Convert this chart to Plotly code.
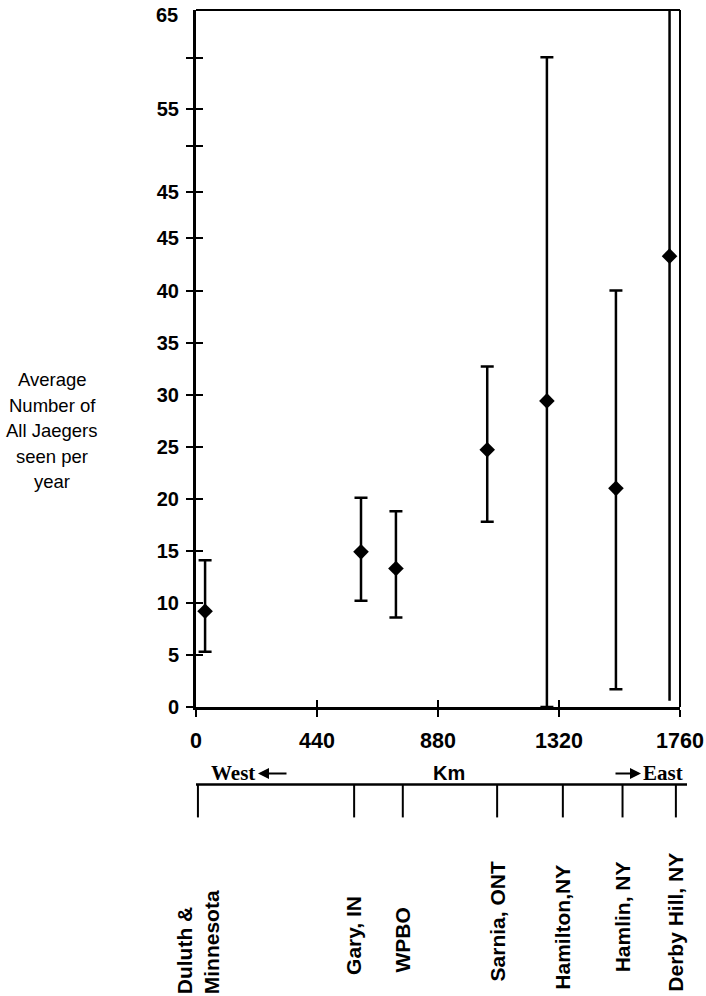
import plotly.graph_objects as go

# ---------------- data (y in units of the drawn linear axis) ----------------
site_labels = ["Duluth &<br>Minnesota", "Gary, IN", "WPBO", "Sarnia, ONT",
               "Hamilton,NY", "Hamlin, NY", "Derby Hill, NY"]
site_scale_km = [7, 575, 752, 1095, 1334, 1551, 1745]      # ticks on lower Km scale
point_km = [33, 600, 727, 1059, 1276, 1527, 1722]           # x of each data point
mean_jaegers = [9.2, 14.9, 13.3, 24.7, 29.4, 21.0, 43.3]
upper_jaegers = [14.1, 20.1, 18.8, 32.7, 62.4, 40.0, 67.0]
lower_jaegers = [5.3, 10.2, 8.6, 17.8, 0.0, 1.7, 0.6]
has_caps = [True, True, True, True, True, True, False]

y_tickvals = [0, 5, 10, 15, 20, 25, 30, 35, 40, 45, 49.5, 53.9, 57.4, 62.3]
y_ticktext = ["0", "5", "10", "15", "20", "25", "30", "35", "40", "45", "45", "", "55", ""]
y_top_label = "65"
x_tickvals = [0, 440, 880, 1320, 1760]
x_ticktext = ["0", "440", "880", "1320", "1760"]
x_cross_ticks = [440, 880, 1320]
y_title_lines = ["Average", "Number of", "All Jaegers", "seen per", "year"]

# ---------------- layout geometry ----------------
W, H = 706, 996
L, R, T, B = 196, 26, 10, 288.5
PW, PH = W - L - R, H - T - B
Y_MAX = 66.94
X_MAX = 1760


def pxp(p):  # pixel x -> paper
    return (p - L) / PW


def pyp(p):  # pixel y -> paper
    return (H - B - p) / PH


label_bottom_px = [997, 978, 975, 984, 992, 975, 994]

SANS = "Liberation Sans, Arial, Helvetica, sans-serif"
SERIF = "Liberation Serif, Times New Roman, serif"

fig = go.Figure()


def add_points(idx, cap_w):
    xs = [point_km[i] for i in idx]
    ys = [mean_jaegers[i] for i in idx]
    up = [upper_jaegers[i] - mean_jaegers[i] for i in idx]
    dn = [mean_jaegers[i] - lower_jaegers[i] for i in idx]
    fig.add_trace(go.Scatter(
        x=xs, y=ys, mode="markers",
        marker=dict(symbol="diamond", size=12, color="black"),
        error_y=dict(type="data", symmetric=False, array=up, arrayminus=dn,
                     color="black", thickness=2.5, width=cap_w),
        showlegend=False, hoverinfo="x+y"))


add_points([i for i, c in enumerate(has_caps) if c], 6.5)
add_points([i for i, c in enumerate(has_caps) if not c], 0)

# dummy trace to activate overlay axes (inside half of crossing ticks)
fig.add_trace(go.Scatter(x=[0], y=[0], xaxis="x2", yaxis="y2", mode="markers",
                         marker=dict(opacity=0), hoverinfo="skip", showlegend=False))

tickfont = dict(family=SANS, size=20, color="black", weight="bold")

fig.update_layout(
    template="none",
    width=W, height=H,
    margin=dict(l=L, r=R, t=T, b=B, autoexpand=False),
    paper_bgcolor="white", plot_bgcolor="white",
    showlegend=False,
    xaxis=dict(range=[0, X_MAX], tickvals=x_tickvals, ticktext=x_ticktext,
               ticks="outside", ticklen=7, tickwidth=2, tickcolor="black",
               showline=True, linewidth=3, linecolor="black",
               showgrid=False, zeroline=False, automargin=False,
               tickfont=dict(family=SANS, size=21.5, color="black", weight="bold"),
               ticklabelstandoff=5),
    yaxis=dict(range=[0, Y_MAX], tickvals=y_tickvals, ticktext=y_ticktext,
               ticks="outside", ticklen=7, tickwidth=2, tickcolor="black",
               showline=True, linewidth=3, linecolor="black",
               showgrid=False, zeroline=False, automargin=False,
               tickfont=tickfont, ticklabelstandoff=3),
    xaxis2=dict(overlaying="x", anchor="y2", range=[0, X_MAX], tickvals=x_cross_ticks,
                ticks="inside", ticklen=7, tickwidth=2, tickcolor="black",
                showticklabels=False, showline=False, showgrid=False, zeroline=False,
                automargin=False),
    yaxis2=dict(overlaying="y", anchor="x2", range=[0, Y_MAX], tickvals=y_tickvals,
                ticks="inside", ticklen=7, tickwidth=2, tickcolor="black",
                showticklabels=False, showline=False, showgrid=False, zeroline=False,
                automargin=False),
)

shapes = [
    # frame top and right
    dict(type="line", xref="paper", yref="paper", x0=0, x1=1, y0=1, y1=1,
         line=dict(color="black", width=2)),
    dict(type="line", xref="paper", yref="paper", x0=1, x1=1, y0=0, y1=1,
         line=dict(color="black", width=2)),
    # lower Km scale line
    dict(type="line", xref="paper", yref="paper", x0=pxp(196), x1=pxp(687),
         y0=pyp(785), y1=pyp(785), line=dict(color="black", width=2.5)),
]
for km in site_scale_km:
    shapes.append(dict(type="line", xref="x", yref="paper", x0=km, x1=km,
                       y0=pyp(785), y1=pyp(818), line=dict(color="black", width=2)))
fig.update_layout(shapes=shapes)

ann = []
# "65" label at top of y axis
ann.append(dict(text=y_top_label, xref="paper", yref="paper", x=pxp(180), y=pyp(15.5),
                xanchor="right", yanchor="middle", showarrow=False, font=tickfont))
# y axis title (one annotation per line for exact spacing)
for i, line in enumerate(y_title_lines):
    ann.append(dict(text=line, xref="paper", yref="paper", x=pxp(52), y=pyp(380 + 25.5 * i),
                    xanchor="center", yanchor="middle", showarrow=False,
                    font=dict(family=SANS, size=18.5, color="black")))
# West / Km / East
ann.append(dict(text="West", xref="paper", yref="paper", x=pxp(257), y=pyp(774),
                xanchor="right", yanchor="middle", showarrow=False,
                font=dict(family=SERIF, size=21, color="black", weight="bold")))
ann.append(dict(text="", xref="paper", yref="paper", x=pxp(258), y=pyp(774),
                ax=30, ay=0, showarrow=True, arrowhead=2, arrowsize=1.1,
                arrowwidth=2, arrowcolor="black"))
ann.append(dict(text="Km", xref="paper", yref="paper", x=pxp(449), y=pyp(774),
                xanchor="center", yanchor="middle", showarrow=False,
                font=dict(family=SANS, size=20, color="black", weight="bold")))
ann.append(dict(text="East", xref="paper", yref="paper", x=pxp(641), y=pyp(774),
                xanchor="left", yanchor="middle", showarrow=False,
                font=dict(family=SERIF, size=21, color="black", weight="bold")))
ann.append(dict(text="", xref="paper", yref="paper", x=pxp(641), y=pyp(774),
                ax=-27, ay=0, showarrow=True, arrowhead=2, arrowsize=1.1,
                arrowwidth=2, arrowcolor="black"))
# site labels (rotated)
for lab, km, bpx in zip(site_labels, site_scale_km, label_bottom_px):
    ann.append(dict(text=lab, xref="x", yref="paper", x=km, y=pyp(bpx),
                    xanchor="center", yanchor="bottom", textangle=-90, align="left",
                    showarrow=False,
                    font=dict(family=SANS, size=21, color="black", weight="bold")))
fig.update_layout(annotations=ann)

fig.write_html(
    "out.html",
    config={"displayModeBar": False},
    post_script="document.body.style.margin='0';document.body.style.overflow='hidden';",
)
